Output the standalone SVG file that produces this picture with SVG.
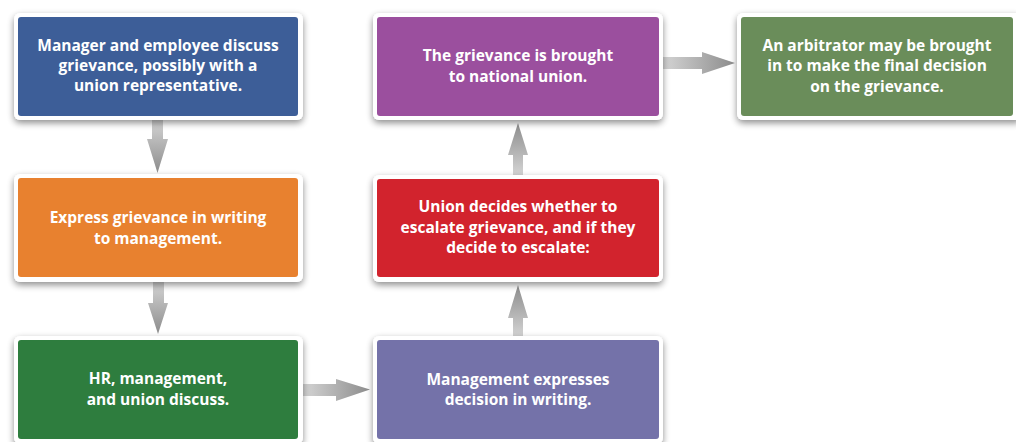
<svg xmlns="http://www.w3.org/2000/svg" width="1016" height="442" viewBox="0 0 1016 442">
<defs>
<filter id="sh" x="-10%" y="-20%" width="120%" height="150%">
<feGaussianBlur in="SourceAlpha" stdDeviation="3.5"/>
<feOffset dx="0" dy="3" result="b"/>
<feComponentTransfer><feFuncA type="linear" slope="0.45"/></feComponentTransfer>
<feMerge><feMergeNode/><feMergeNode in="SourceGraphic"/></feMerge>
</filter>
<linearGradient id="gd" x1="0" y1="0" x2="0" y2="1"><stop offset="0" stop-color="#d4d4d4"/><stop offset="1" stop-color="#8c8c8c"/></linearGradient>
<linearGradient id="gu" x1="0" y1="1" x2="0" y2="0"><stop offset="0" stop-color="#d4d4d4"/><stop offset="1" stop-color="#8c8c8c"/></linearGradient>
<linearGradient id="gr" x1="0" y1="0" x2="1" y2="0"><stop offset="0" stop-color="#d4d4d4"/><stop offset="1" stop-color="#8c8c8c"/></linearGradient>
<linearGradient id="gdu" gradientUnits="objectBoundingBox" x1="0" y1="0" x2="0" y2="1"><stop offset="0" stop-color="#d8d8d8"/><stop offset="1" stop-color="#8a8a8a"/></linearGradient>
</defs>
<style>
.frame{fill:#ffffff;filter:url(#sh)}
.t{font-family:"Open Sans","Liberation Sans",sans-serif;font-weight:700;font-size:15.5px;fill:#ffffff;text-anchor:middle}
</style>
<rect width="1016" height="442" fill="#ffffff"/>
<g id="connectors">
<path d="M152,120 H163 V139 H168 L157.5,173 L147,139 H152 Z" fill="url(#gd)"/>
<path d="M153,282 H164 V303 H168 L158,334 L148,303 H153 Z" fill="url(#gd)"/>
<path d="M303,384 V396 H336 V401 L370,389.5 L336,379 V384 Z" fill="url(#gr)"/>
<path d="M513,337 H523 V318 H528 L518,285 L508,318 H513 Z" fill="url(#gu)"/>
<path d="M513,175 H523 V155 H528 L518,123 L508,155 H513 Z" fill="url(#gu)"/>
<path d="M663,57 V69 H702 V74 L735,63 L702,52 V57 Z" fill="url(#gr)"/>
</g>
<g id="n1">
<rect class="frame" x="14" y="13" width="289" height="107" rx="6"/>
<rect x="18" y="17" width="280" height="99" rx="3" fill="#3d5e98"/>
<text class="t" x="158" y="51">Manager and employee discuss</text>
<text class="t" x="158" y="71">grievance, possibly with a</text>
<text class="t" x="158" y="91">union representative.</text>
</g>
<g id="n2">
<rect class="frame" x="14" y="174" width="289" height="108" rx="6"/>
<rect x="18" y="178" width="280" height="99" rx="3" fill="#e8812f"/>
<text class="t" x="158" y="223">Express grievance in writing</text>
<text class="t" x="158" y="244">to management.</text>
</g>
<g id="n3">
<rect class="frame" x="14" y="336" width="289" height="108" rx="6"/>
<rect x="18" y="340" width="280" height="99" rx="3" fill="#2e7d3e"/>
<text class="t" x="158" y="384">HR, management,</text>
<text class="t" x="158" y="405">and union discuss.</text>
</g>
<g id="n4">
<rect class="frame" x="373" y="336" width="290" height="108" rx="6"/>
<rect x="377" y="340" width="282" height="99" rx="3" fill="#7472a9"/>
<text class="t" x="518" y="385">Management expresses</text>
<text class="t" x="518" y="405">decision in writing.</text>
</g>
<g id="n5">
<rect class="frame" x="373" y="175" width="290" height="107" rx="6"/>
<rect x="377" y="179" width="282" height="98" rx="3" fill="#d2232d"/>
<text class="t" x="518" y="212">Union decides whether to</text>
<text class="t" x="518" y="233">escalate grievance, and if they</text>
<text class="t" x="518" y="253">decide to escalate:</text>
</g>
<g id="n6">
<rect class="frame" x="373" y="13" width="290" height="107" rx="6"/>
<rect x="377" y="17" width="282" height="99" rx="3" fill="#9b4f9e"/>
<text class="t" x="518" y="61">The grievance is brought</text>
<text class="t" x="518" y="82">to national union.</text>
</g>
<g id="n7">
<rect class="frame" x="737" y="13" width="285" height="107" rx="6"/>
<rect x="741" y="17" width="272" height="99" rx="3" fill="#6a8d5a"/>
<text class="t" x="877" y="51">An arbitrator may be brought</text>
<text class="t" x="877" y="71">in to make the final decision</text>
<text class="t" x="877" y="92">on the grievance.</text>
</g>
</svg>
